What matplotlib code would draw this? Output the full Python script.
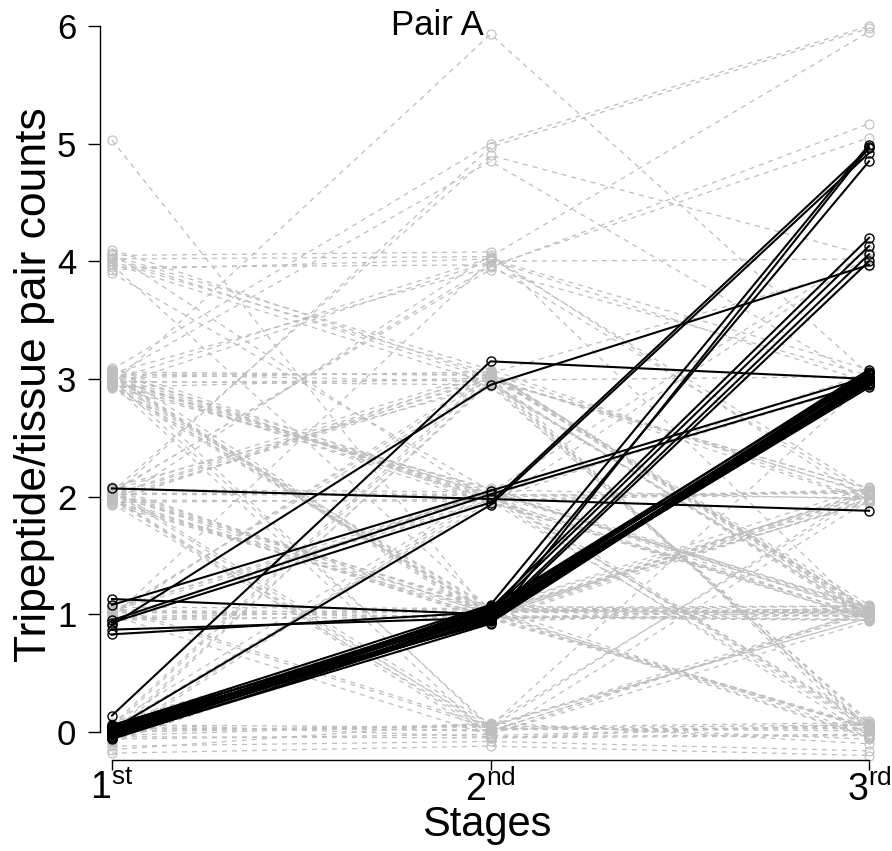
import matplotlib
matplotlib.use('Agg')
import matplotlib.pyplot as plt

plt.rcParams['font.family'] = ['Liberation Sans', 'DejaVu Sans']
plt.rcParams['mathtext.fontset'] = 'custom'
plt.rcParams['mathtext.rm'] = 'Liberation Sans'
plt.rcParams['mathtext.it'] = 'Liberation Sans:italic'

stages = [1, 2, 3]
stage_labels = [r'$\mathrm{1}^{\mathrm{st}}$', r'$\mathrm{2}^{\mathrm{nd}}$', r'$\mathrm{3}^{\mathrm{rd}}$']

# grey (dashed) tripeptide/tissue pairs, jittered counts at each stage
grey_1st = [5.03, 2.95, 3.08, 2.04, 3.02, 4.10, 4.05, 3.98, 4.02, 3.90,
            4.00, 3.95, 4.07, 3.93, 4.03, 3.97, 3.05, 2.97, 3.00, 3.07,
            2.93, 3.03, 2.98, 3.06, 2.96, 3.01, 3.09, 2.94, 3.04, 2.99,
            3.02, 2.92, 3.08, 2.97, 3.03, 2.95, 3.06, 2.98, 3.01, 3.04,
            2.93, 3.07, 2.96, 3.00, 2.99, 3.05, 2.94, 2.03, 1.97, 2.06,
            1.95, 2.01, 2.08, 1.99, 2.04, 1.93, 2.02, 1.96, 2.05, 1.98,
            2.07, 1.94, 2.00, 2.03, 1.97, 2.06, 1.95, 2.02, 1.99, 2.05,
            1.96, 2.08, 2.01, 1.94, 2.04, 1.98, 1.03, 0.97, 1.06, 0.95,
            1.01, 1.04, 0.98, 1.02, 0.96, 1.05, 0.99, 1.07, 0.94, 1.03,
            0.98, 1.01, 1.04, 0.97, 0.03, -0.04, 0.06, -0.12, 0.01, -0.06,
            0.04, -0.03, 0.07, 0.02, -0.08, 0.05, -0.02, 0.08, -0.05, 0.03,
            -0.07, 0.04, -0.01, 0.06, -0.04, 0.00, -0.09, 0.07, 1.00, 4.05,
            3.04, 2.97, 2.02, 1.05, 0.05, 3.01, 1.96, 2.03, 0.95, -0.18,
            -0.15, 2.00]
grey_2nd = [0.98, 5.93, 5.00, 4.90, 4.85, 3.02, 3.08, 2.96, 4.04, 2.05,
            3.05, 3.97, 1.96, 4.02, 3.00, 1.04, 2.04, 1.98, 2.02, 1.95,
            2.07, 2.00, 2.06, 1.97, 2.03, 1.99, 2.01, 1.03, 0.97, 1.06,
            0.94, 1.02, 0.99, 1.05, 0.96, 1.01, 3.03, 2.95, 3.06, 2.98,
            3.01, 0.03, -0.04, 0.05, 4.03, 3.95, 4.00, 1.02, 0.96, 1.04,
            0.98, 1.07, 1.00, 0.95, 1.05, 1.01, 0.97, 1.03, 0.02, -0.05,
            0.06, 0.01, -0.02, 2.02, 1.96, 2.04, 1.98, 3.04, 2.97, 3.07,
            3.02, 2.94, 3.00, 4.05, 3.93, 0.04, 1.02, 0.97, 1.05, 0.99,
            1.04, 0.96, 1.03, 0.98, 1.06, 0.03, -0.03, 0.05, 2.05, 1.95,
            3.05, 2.96, 2.03, 4.01, 0.02, -0.05, 0.04, -0.08, 0.06, -0.02,
            0.01, 0.07, -0.04, 1.03, 0.97, 1.05, 0.98, 1.02, 2.04, 1.96,
            2.01, 3.03, 2.97, 3.06, 2.99, 0.05, 1.01, 2.06, 3.01, 4.08,
            3.04, 2.99, 2.01, 1.97, 0.96, 1.93, 3.05, 3.96, 2.04, -0.12,
            0.08, 4.97]
grey_3rd = [2.04, 3.04, 6.00, 4.05, 2.97, 1.03, 1.97, 0.04, 5.95, 0.97,
            1.08, 2.02, 0.02, 3.08, 2.07, 1.00, 1.02, 0.96, 1.06, 0.99,
            1.04, 2.03, 1.98, 2.06, 0.05, -0.03, 0.08, 1.01, 0.95, 1.07,
            1.03, 2.01, 1.96, 2.08, 0.03, -0.05, 1.05, 0.98, 1.02, 0.07,
            0.01, 0.06, -0.02, 0.97, 2.05, 5.17, 4.02, 0.99, 1.05, 1.01,
            0.96, 1.03, 2.04, 1.97, 2.02, 1.95, 0.04, -0.04, 0.03, 0.07,
            -0.06, 1.02, 0.94, 1.99, 2.05, 1.06, 0.98, 1.04, 0.97, 1.00,
            0.02, 0.09, 2.03, 1.96, 3.03, 2.06, 1.04, 0.99, 1.02, 0.95,
            1.07, 2.01, 1.98, 0.05, -0.02, 0.01, 0.06, 1.03, 1.01, 0.96,
            1.05, 0.99, 0.03, 2.97, 0.04, -0.03, 0.08, -0.16, 0.97, 1.04,
            1.01, 2.02, 1.97, 0.98, 1.06, 1.02, 2.05, 1.95, 1.03, 0.96,
            2.04, 1.00, 0.95, -0.04, 2.07, 2.99, 0.03, 0.06, 1.96, 0.97,
            2.02, 3.02, 2.96, 3.05, 2.94, 4.05, 3.96, 5.05, 4.09, -0.20,
            -0.10, 5.98]

# black (solid) highlighted pairs
black_1st = [2.07, 0.14, 0.91, 1.08, 0.95, 0.93, 0.02, 1.13, 0.87, 0.83,
             0.03, -0.02, 0.05, -0.05, 0.01, -0.03, 0.04, -0.06, 0.00, 0.06,
             -0.04, 0.02, -0.01, 0.03, -0.05, 0.05, -0.02, 0.01]
black_2nd = [1.98, 3.15, 2.95, 2.05, 2.02, 1.95, 1.93, 1.00, 0.97, 1.02,
             1.05, 0.95, 1.08, 0.92, 1.01, 0.98, 1.03, 0.96, 1.04, 0.99,
             1.06, 0.94, 1.02, 0.97, 1.00, 0.93, 1.07, 0.95]
black_3rd = [1.88, 3.00, 3.97, 3.02, 2.97, 4.96, 4.92, 4.85, 4.06, 4.13,
             4.20, 4.00, 4.99, 4.97, 3.05, 2.95, 3.08, 2.98, 3.02, 2.93,
             3.06, 3.00, 2.96, 3.04, 2.99, 3.01, 2.97, 3.03]

fig = plt.figure(figsize=(8.92, 8.51), dpi=100)
ax = fig.add_axes([100/892, 91/851, 780/892, 746/851])

for i in range(len(grey_1st)):
    ax.plot(stages, [grey_1st[i], grey_2nd[i], grey_3rd[i]], color='#bebebe',
            linestyle=(0, (4, 4)), lw=0.9, marker='o', mfc='none', ms=6.5,
            mew=0.8, clip_on=False)

for i in range(len(black_1st)):
    ax.plot(stages, [black_1st[i], black_2nd[i], black_3rd[i]], color='black',
            lw=1.5, marker='o', mfc='none', ms=6.5, mew=1.0, clip_on=False)

ax.set_xlim(0.9683, 3.029)
ax.set_ylim(-0.238, 6.102)

for s in ['top', 'right']:
    ax.spines[s].set_visible(False)
ax.spines['left'].set_bounds(0, 6)
ax.spines['bottom'].set_bounds(1, 3)
ax.spines['left'].set_linewidth(1)
ax.spines['bottom'].set_linewidth(1)

ax.set_yticks(range(0, 7))
ax.set_xticks(stages)
ax.set_xticklabels(stage_labels)
ax.tick_params(axis='y', length=9, width=1, pad=8, labelsize=25)
ax.tick_params(axis='x', length=7.5, width=1, pad=0, labelsize=27)

ax.set_xlabel('Stages', fontsize=30, va='baseline')
ax.xaxis.set_label_coords((487 - 100) / 780, -76 / 746)
ax.set_ylabel('Tripeptide/tissue pair counts', fontsize=32, va='center')
ax.yaxis.set_label_coords((35 - 100) / 780, (760 - 385) / 746)
fig.text(437/892, 1 - 35/851, 'Pair A', ha='center', va='baseline', fontsize=25)

fig.savefig('out.png', dpi=100)
